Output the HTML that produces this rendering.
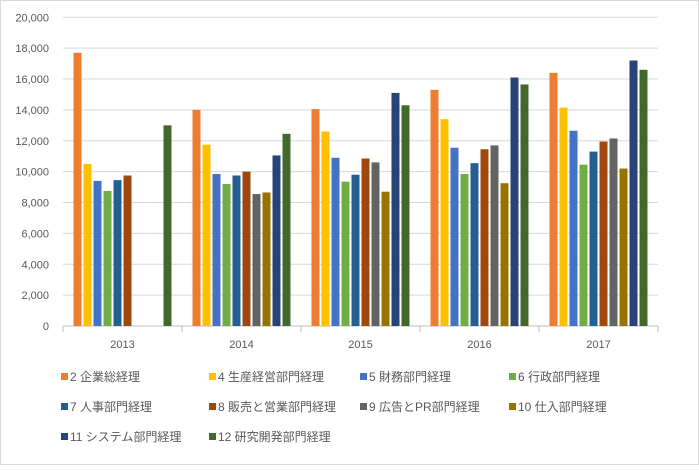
<!DOCTYPE html>
<html><head><meta charset="utf-8"><style>
body{margin:0;background:#fff}
svg text{font-family:"Liberation Sans","Noto Sans CJK JP",sans-serif;fill:#595959}
</style></head><body>
<svg width="699" height="465" xmlns="http://www.w3.org/2000/svg">
<rect x="0.5" y="0.5" width="698" height="464" fill="#fff" stroke="#d9d9d9"/>
<g id="grid"></g><g id="bars"></g><g id="axes"></g><g id="legend"></g>
</svg>
<script>
const categories=["2013","2014","2015","2016","2017"];
const seriesNames=["2 企業総経理","4 生産経営部門経理","5 財務部門経理","6 行政部門経理","7 人事部門経理","8 販売と営業部門経理","9 広告とPR部門経理","10 仕入部門経理","11 システム部門経理","12 研究開発部門経理"];
const colors=["#ed7d31","#ffc000","#4472c4","#70ad47","#255e91","#9e480e","#636363","#997300","#264478","#43682b"];
const s2=[17700,14000,14050,15300,16400];
const s4=[10500,11750,12600,13400,14150];
const s5=[9400,9850,10900,11550,12650];
const s6=[8750,9200,9350,9850,10450];
const s7=[9450,9750,9800,10550,11300];
const s8=[9750,10000,10850,11450,11950];
const s9=[null,8550,10600,11700,12150];
const s10=[null,8650,8700,9250,10200];
const s11=[null,11050,15100,16100,17200];
const s12=[13000,12450,14300,15650,16600];
const series=[s2,s4,s5,s6,s7,s8,s9,s10,s11,s12];
const yTicks=[0,2000,4000,6000,8000,10000,12000,14000,16000,18000,20000];
const yTickLabels=["0","2,000","4,000","6,000","8,000","10,000","12,000","14,000","16,000","18,000","20,000"];
const NS="http://www.w3.org/2000/svg";
const L=63,R=658,T=17.3,B=326,yMax=20000;
const y=v=>B-(v/yMax)*(B-T);
const gw=(R-L)/categories.length;
const bw=8,step=10;
function mk(tag,attrs,parent){const e=document.createElementNS(NS,tag);for(const k in attrs)e.setAttribute(k,attrs[k]);parent.appendChild(e);return e;}
const grid=document.getElementById('grid'),bars=document.getElementById('bars'),axes=document.getElementById('axes'),leg=document.getElementById('legend');
yTicks.forEach((t,i)=>{
 const ln=mk('line',{x1:L,x2:R,y1:y(t),y2:y(t),stroke:i==0?'#bfbfbf':'#d9d9d9','stroke-width':1},grid);
 
 
 const tx=mk('text',{x:49,y:y(t)+4,'text-anchor':'end','font-size':11},axes);
 tx.textContent=yTickLabels[i];
 
 
});
categories.forEach((c,ci)=>{
 const gx=L+ci*gw;
 const tk=mk('line',{x1:gx,x2:gx,y1:B,y2:B+6,stroke:'#bfbfbf'},axes);
 
 
 const tx=mk('text',{x:gx+gw/2,y:B+22,'text-anchor':'middle','font-size':11},axes);
 tx.textContent=c;
 
 
 const off=(gw-(series.length*step-2))/2;
 series.forEach((s,si)=>{
  const v=s[ci]; if(v==null) return;
  const r=mk('rect',{x:gx+off+si*step,y:y(v),width:bw,height:B-y(v),fill:colors[si]},bars);
  
  
 });
});
const tkE=mk('line',{x1:R,x2:R,y1:B,y2:B+6,stroke:'#bfbfbf'},axes);


const legX=[61,209,360,509],legY=[377,407,437];
seriesNames.forEach((n,i)=>{
 const g=mk('g',{},leg);
 
 
 const lx=legX[i%4],ly=legY[Math.floor(i/4)];
 mk('rect',{x:lx,y:ly-4,width:7,height:7,fill:colors[i]},g);
 const t=mk('text',{x:lx+9,y:ly+4,'font-size':12},g);
 t.textContent=n;
});
</script>
</body></html>
